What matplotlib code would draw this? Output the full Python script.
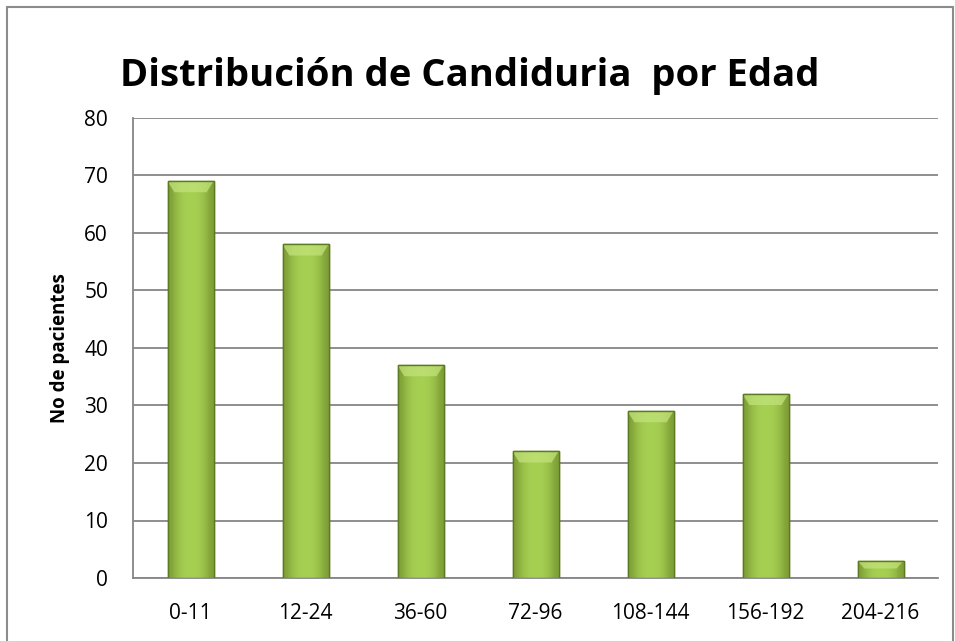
import numpy as np
import matplotlib
matplotlib.use("Agg")
from matplotlib import pyplot as plt
from matplotlib.patches import Rectangle

# data
grupos = ["0-11", "12-24", "36-60", "72-96", "108-144", "156-192", "204-216"]
pacientes = [69, 58, 37, 22, 29, 32, 3]
yticks = [0, 10, 20, 30, 40, 50, 60, 70, 80]

plt.rcParams['font.family'] = ['Open Sans', 'DejaVu Sans']

fig = plt.figure(figsize=(9.55, 6.41), dpi=100)
ax = fig.add_axes([133/955, 63/641, 805/955, 460/641])

# outer frame of the chart
fig.patches.append(Rectangle((7/955, -0.01), 946/955, 1 - 7/641 + 0.01,
                             transform=fig.transFigure, fill=False,
                             edgecolor="#8c8c8c", linewidth=1.5))

x = np.arange(len(grupos))
bars = ax.bar(x, pacientes, width=0.4, color="#9bc545",
              edgecolor="#5c7a22", linewidth=1.0, zorder=3)

# horizontal gradient to fake the bevel look
grad = np.array([[0.0, 0.6, 0.9, 1.0, 1.0, 0.9, 0.6, 0.0]])
cmap = matplotlib.colors.LinearSegmentedColormap.from_list(
    "g", ["#7e9f36", "#a6d052"])
for b in bars:
    x0, w, h = b.get_x(), b.get_width(), b.get_height()
    im = ax.imshow(grad, cmap=cmap, aspect="auto", interpolation="bicubic",
                   extent=(x0, x0 + w, 0, h), zorder=3.5)
    im.set_clip_path(b)
    # light top bevel
    d = min(80 / 460 * 11, h * 0.45)
    dx = w * 0.15
    ax.fill([x0, x0 + w, x0 + w - dx, x0 + dx], [h, h, h - d, h - d],
            color="#c2e27a", alpha=0.75, zorder=3.6, linewidth=0)
    ax.bar(x0 + w / 2, h, width=w, fill=False, edgecolor="#5c7a22",
           linewidth=1.0, zorder=3.7)

ax.set_xlim(-0.5, len(grupos) - 0.5)
ax.set_ylim(0, 80)
ax.set_yticks(yticks)
ax.set_xticks(x)
ax.set_xticklabels(grupos)
ax.tick_params(axis="both", length=0, labelsize=15)
ax.tick_params(axis="y", pad=18)
ax.tick_params(axis="x", pad=18)
ax.yaxis.grid(True, color="#868686", linewidth=1.3, zorder=0)
ax.set_axisbelow(True)
for s in ["top", "right"]:
    ax.spines[s].set_visible(False)
for s in ["left", "bottom"]:
    ax.spines[s].set_color("#868686")
    ax.spines[s].set_linewidth(1.3)

ax.set_ylabel("No de pacientes", fontsize=13.5, fontweight="bold", labelpad=10)
fig.text(470/955, 1 - 76/641, "Distribución de Candiduria  por Edad",
         ha="center", va="center", fontsize=27.5, fontweight="bold")

fig.savefig("out.png", dpi=100)
